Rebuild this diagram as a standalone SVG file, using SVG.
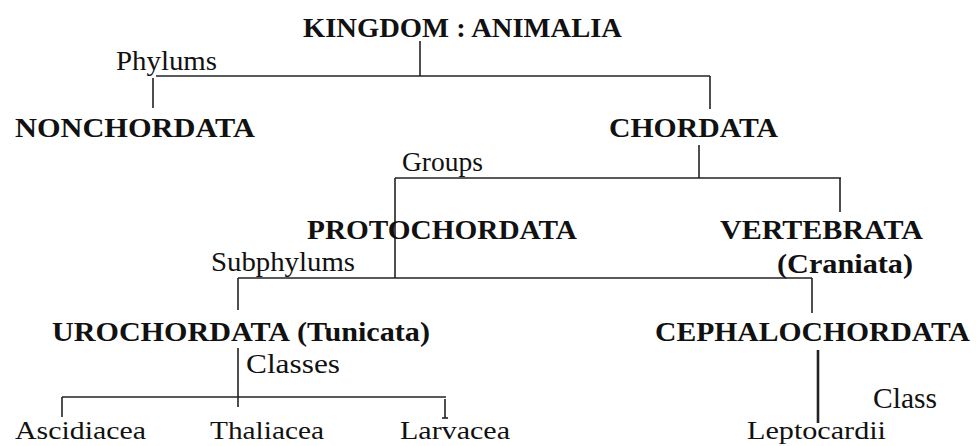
<svg xmlns="http://www.w3.org/2000/svg" width="976" height="446" viewBox="0 0 976 446">
<style>
.h{font-family:"Liberation Serif","Times New Roman",serif;font-weight:bold;font-size:28px;fill:#111}
.l{font-family:"Liberation Serif","Times New Roman",serif;font-size:27px;fill:#111}
.n{font-family:"Liberation Serif","Times New Roman",serif;font-size:29px;fill:#111}
.b{font-family:"Liberation Serif","Times New Roman",serif;font-size:26px;fill:#111}
.c line{stroke:#222;stroke-width:1.6;fill:none}
</style>
<rect width="976" height="446" fill="#fff"/>
<g class="c" id="connectors">
<line x1="420" y1="41" x2="420" y2="76"/>
<line x1="156" y1="76" x2="710" y2="76"/>
<line x1="153" y1="78" x2="153" y2="108"/>
<line x1="710" y1="76" x2="710" y2="109"/>
<line x1="699" y1="145" x2="699" y2="178"/>
<line x1="395" y1="178" x2="841" y2="178"/>
<line x1="395" y1="178" x2="395" y2="278"/>
<line x1="840" y1="178" x2="840" y2="212"/>
<line x1="238" y1="278" x2="812" y2="278"/>
<line x1="238" y1="278" x2="238" y2="310"/>
<line x1="812" y1="278" x2="812" y2="313"/>
<line x1="238" y1="348" x2="238" y2="407"/>
<line x1="62" y1="397" x2="446" y2="397"/>
<line x1="62" y1="397" x2="62" y2="417"/>
<line x1="445" y1="399" x2="445" y2="418"/>
<line x1="442" y1="418" x2="448" y2="418"/>
<line x1="818" y1="350" x2="818" y2="423" style="stroke-width:2.6"/>
</g>
<g id="kingdom"><text class="h" x="303" y="37" textLength="319" lengthAdjust="spacingAndGlyphs">KINGDOM : ANIMALIA</text></g>
<g id="phylums"><text class="l" x="116" y="70" textLength="101" lengthAdjust="spacingAndGlyphs">Phylums</text></g>
<g id="nonchordata"><text class="h" x="15" y="137" textLength="240" lengthAdjust="spacingAndGlyphs">NONCHORDATA</text></g>
<g id="chordata"><text class="h" x="609" y="137" textLength="169" lengthAdjust="spacingAndGlyphs">CHORDATA</text></g>
<g id="groups"><text class="l" x="402" y="171" textLength="81" lengthAdjust="spacingAndGlyphs">Groups</text></g>
<g id="protochordata"><text class="h" x="307" y="239" textLength="270" lengthAdjust="spacingAndGlyphs">PROTOCHORDATA</text></g>
<g id="vertebrata"><text class="h" x="720" y="239" textLength="203" lengthAdjust="spacingAndGlyphs">VERTEBRATA</text>
<text class="h" x="777" y="273" textLength="136" lengthAdjust="spacingAndGlyphs">(Craniata)</text></g>
<g id="subphylums"><text class="l" x="211" y="271" textLength="144" lengthAdjust="spacingAndGlyphs">Subphylums</text></g>
<g id="urochordata"><text class="h" x="52" y="341" textLength="238" lengthAdjust="spacingAndGlyphs">UROCHORDATA</text>
<text class="h" x="297" y="341" textLength="133" lengthAdjust="spacingAndGlyphs">(Tunicata)</text></g>
<g id="cephalochordata"><text class="h" x="655" y="341" textLength="315" lengthAdjust="spacingAndGlyphs">CEPHALOCHORDATA</text></g>
<g id="classes"><text class="l" x="246" y="373" textLength="94" lengthAdjust="spacingAndGlyphs">Classes</text></g>
<g id="class"><text class="n" x="873" y="408" textLength="64" lengthAdjust="spacingAndGlyphs">Class</text></g>
<g id="ascidiacea"><text class="b" x="15" y="439" textLength="131" lengthAdjust="spacingAndGlyphs">Ascidiacea</text></g>
<g id="thaliacea"><text class="b" x="210" y="439" textLength="114" lengthAdjust="spacingAndGlyphs">Thaliacea</text></g>
<g id="larvacea"><text class="b" x="400" y="439" textLength="110" lengthAdjust="spacingAndGlyphs">Larvacea</text></g>
<g id="leptocardii"><text class="b" x="747" y="439" textLength="139" lengthAdjust="spacingAndGlyphs">Leptocardii</text></g>
</svg>
